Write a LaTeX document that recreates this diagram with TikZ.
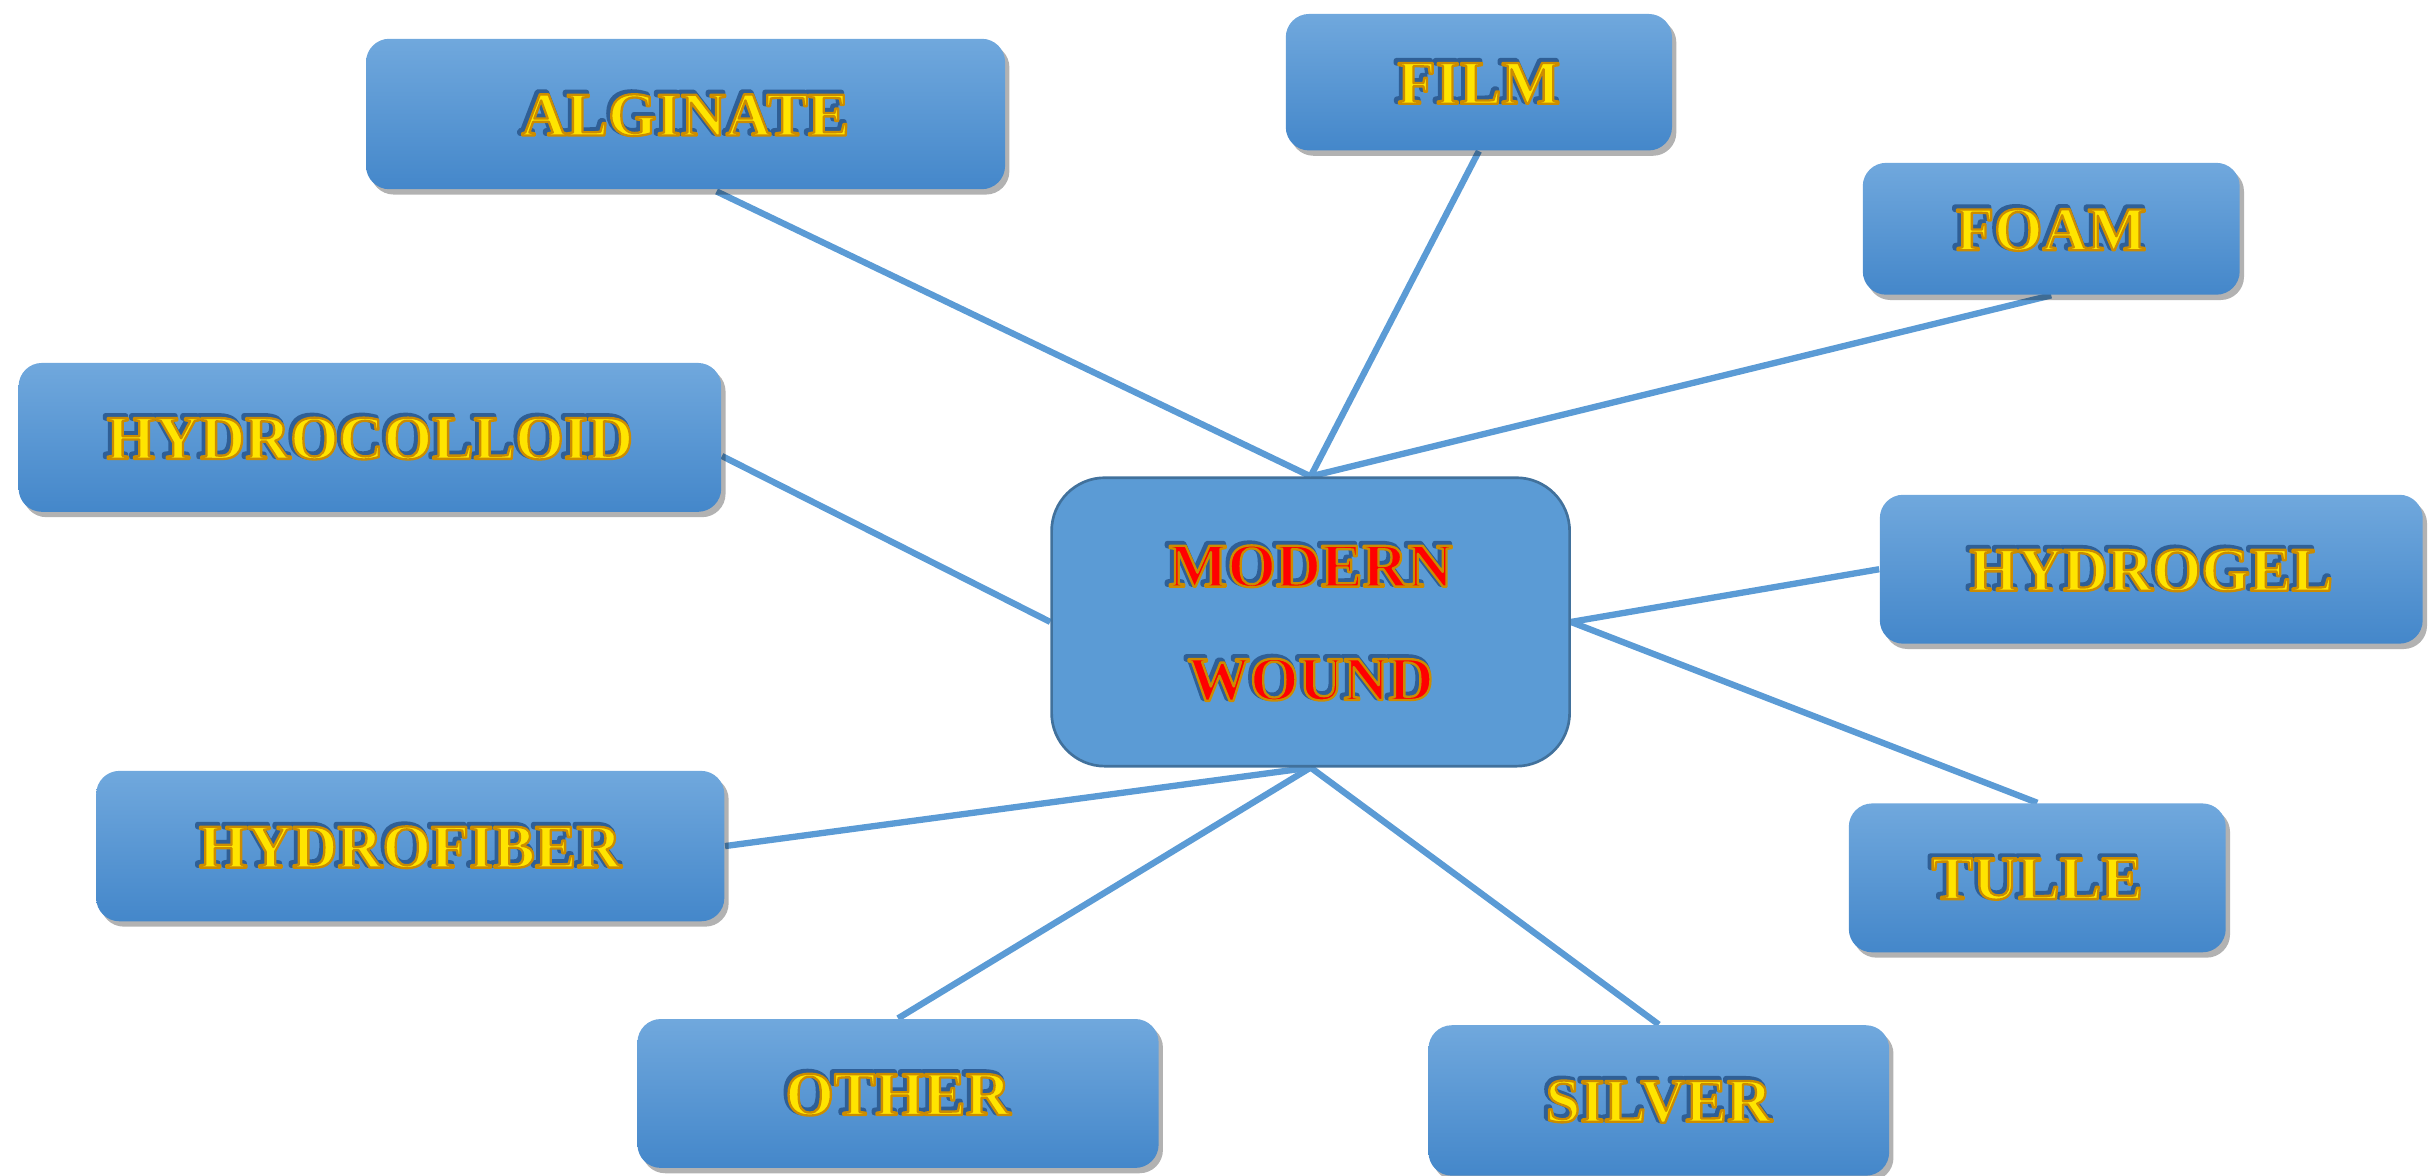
\documentclass[tikz,border=0pt]{standalone}
\usepackage{fontspec}
\setmainfont{Liberation Serif}
\usetikzlibrary{shadows,calc,backgrounds}
\definecolor{lineblue}{HTML}{5B9BD5}
\definecolor{boxtop}{HTML}{70A8DD}
\definecolor{boxbot}{HTML}{4487CA}
\definecolor{cfill}{HTML}{5B9BD5}
\definecolor{cborder}{HTML}{41719C}
\definecolor{yel}{HTML}{FFE400}
\definecolor{redtxt}{HTML}{FF0000}
\definecolor{shadA}{HTML}{2F5F96}
\newcommand\cpy[3]{\makebox[0pt][l]{\hspace*{#1}\raisebox{#2}{#3}}}
% #1 text, #2 fill colour
\newcommand\fancy[2]{%
 \cpy{-0.7pt}{0.7pt}{\color{shadA}\special{pdf:literal direct 2 Tr 1.6 w 1 j}#1\special{pdf:literal direct 0 Tr}}%
 {\color{#2}\special{pdf:literal direct 2 Tr 0.7 w 1 j 0.80 0.55 0.0 RG}#1\special{pdf:literal direct 0 Tr}}}
\newcommand\yt[1]{\fancy{#1}{yel}}
\newcommand\rt[1]{\fancy{#1}{redtxt}}
\newcommand\U{0.4653pt}
\tikzset{
 leaf/.style={rectangle, rounded corners=7pt, top color=boxtop, bottom color=boxbot,
   draw=none, inner sep=0pt, font=\fontsize{18.7pt}{22pt}\selectfont\bfseries,
   drop shadow={shadow xshift=1.3pt, shadow yshift=-1.6pt, fill=black, opacity=0.3}},
 hub/.style={rectangle, rounded corners=16pt, fill=cfill, draw=cborder, line width=0.8pt,
   inner sep=0pt, align=center, font=\fontsize{18.7pt}{34pt}\selectfont\bfseries},
 conn/.style={draw=lineblue, line width=1.9pt}
}
\begin{document}
\begin{tikzpicture}[x=0.4653pt,y=-0.4653pt]
\useasboundingbox (0,0) rectangle (1568,758);
\node[hub, minimum width=334*\U, minimum height=186*\U] (ctr) at (845,401) {\rt{MODERN}\\\rt{WOUND}};
\node[leaf, minimum width=412*\U, minimum height=97*\U] (alg) at (442,73.5) {\yt{ALGINATE}};
\node[leaf, minimum width=249*\U, minimum height=88*\U] (film) at (953.5,53) {\yt{FILM}};
\node[leaf, minimum width=243*\U, minimum height=85*\U] (foam) at (1322.5,147.5) {\yt{FOAM}};
\node[leaf, minimum width=453*\U, minimum height=96*\U] (hc) at (238.5,282) {\yt{HYDROCOLLOID}};
\node[leaf, minimum width=350*\U, minimum height=96*\U] (hg) at (1387,367) {\yt{HYDROGEL}};
\node[leaf, minimum width=405*\U, minimum height=97*\U] (hf) at (264.5,545.5) {\yt{HYDROFIBER}};
\node[leaf, minimum width=243*\U, minimum height=96*\U] (tulle) at (1313.5,566) {\yt{TULLE}};
\node[leaf, minimum width=336*\U, minimum height=96*\U] (other) at (579,705) {\yt{OTHER}};
\node[leaf, minimum width=297*\U, minimum height=97*\U] (silver) at (1069.5,709.5) {\yt{SILVER}};
\begin{scope}[on background layer]
\draw[conn] ($(alg.south)+(20,1)$) -- (ctr.north);
\draw[conn] (film.south) -- (ctr.north);
\draw[conn] (foam.south) -- (ctr.north);
\draw[conn] ($(hc.east)+(0,12)$) -- (ctr.west);
\draw[conn] (hg.west) -- (ctr.east);
\draw[conn] (tulle.north) -- (ctr.east);
\draw[conn] (hf.east) -- (ctr.south);
\draw[conn] (other.north) -- (ctr.south);
\draw[conn] (silver.north) -- (ctr.south);
\end{scope}
\end{tikzpicture}
\end{document}
